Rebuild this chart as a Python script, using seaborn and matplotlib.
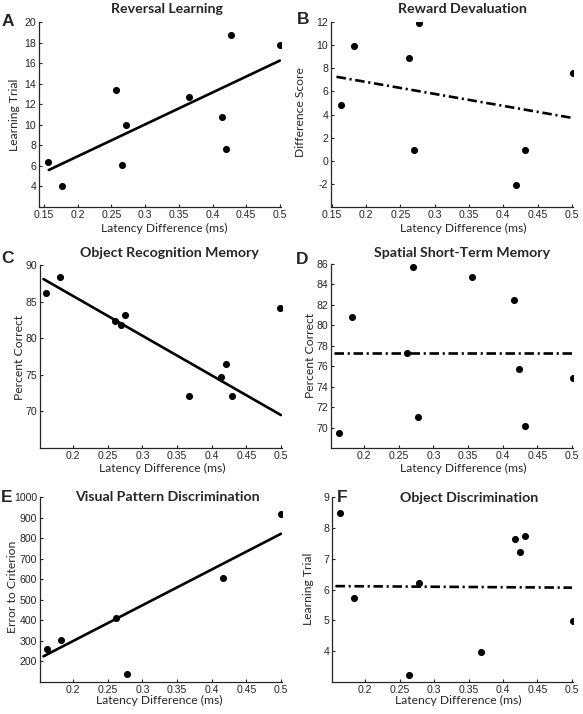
import numpy as np
import seaborn as sns
import matplotlib.pyplot as plt

# values
latency_a = [0.156, 0.176, 0.257, 0.266, 0.272, 0.365, 0.414, 0.420, 0.428, 0.500]
trial_a = [6.36, 4.07, 13.37, 6.07, 9.98, 12.70, 10.76, 7.62, 18.74, 17.80]
fit_a = [5.6, 16.25]

latency_b = [0.163, 0.183, 0.263, 0.270, 0.277, 0.418, 0.432, 0.502]
score_b = [4.78, 9.95, 8.91, 0.91, 11.94, -2.12, 0.91, 7.55]
fit_b = [7.26, 3.71]

latency_c = [0.161, 0.181, 0.260, 0.269, 0.275, 0.367, 0.414, 0.421, 0.429, 0.499]
correct_c = [86.16, 88.33, 82.33, 81.74, 83.14, 72.08, 74.74, 76.46, 72.08, 84.09]
fit_c = [88.08, 69.5]

latency_d = [0.163, 0.183, 0.262, 0.271, 0.278, 0.355, 0.417, 0.423, 0.432, 0.502]
correct_d = [69.51, 80.84, 77.30, 85.74, 71.06, 84.77, 82.43, 75.74, 70.12, 74.86]
fit_d = [77.27, 77.27]

latency_e = [0.162, 0.183, 0.262, 0.277, 0.416, 0.500]
errors_e = [262, 305, 412, 137, 606, 918]
fit_e = [225, 821]

latency_f = [0.164, 0.184, 0.264, 0.278, 0.368, 0.418, 0.424, 0.432, 0.501]
trial_f = [8.47, 5.72, 3.23, 6.22, 3.98, 7.63, 7.22, 7.72, 4.98]
fit_f = [6.11, 6.06]

fit_x = [0.157, 0.5]

xticks_ab = [0.15, 0.2, 0.25, 0.3, 0.35, 0.4, 0.45, 0.5]
xticks_cf = [0.2, 0.25, 0.3, 0.35, 0.4, 0.45, 0.5]

sns.set_style("ticks")
plt.rcParams['font.family'] = ['Liberation Sans', 'DejaVu Sans']

W, H = 583, 714
fig = plt.figure(figsize=(W / 100, H / 100), dpi=100)

# panel setup: letter, title, ylabel, data, fit, style, limits, ticks, pixel boxes
panels = [
    dict(letter='A', title='Reversal Learning', ylabel='Learning Trial',
         x=latency_a, y=trial_a, fit=fit_a, ls='-',
         xlim=(0.1425, 0.5015), ylim=(2, 20), xticks=xticks_ab, yticks=list(range(4, 21, 2)),
         box=(39, 22, 281, 207), letter_xy=(8, 21), title_xy=(167, 9),
         xlab_xy=(164, 228), ylab_xy=(15, 115)),
    dict(letter='B', title='Reward Devaluation', ylabel='Difference Score',
         x=latency_b, y=score_b, fit=fit_b, ls='dashdot',
         xlim=(0.149, 0.5015), ylim=(-4, 12), xticks=xticks_ab, yticks=list(range(-2, 13, 2)),
         box=(331, 22, 573, 207), letter_xy=(303, 20), title_xy=(462, 9),
         xlab_xy=(463, 228), ylab_xy=(300, 112)),
    dict(letter='C', title='Object Recognition Memory', ylabel='Percent Correct',
         x=latency_c, y=correct_c, fit=fit_c, ls='-',
         xlim=(0.152, 0.5015), ylim=(65, 90), xticks=xticks_cf, yticks=[70, 75, 80, 85, 90],
         box=(40, 265, 282, 448), letter_xy=(8, 258), title_xy=(169, 253),
         xlab_xy=(162, 468), ylab_xy=(20, 357)),
    dict(letter='D', title='Spatial Short-Term Memory', ylabel='Percent Correct',
         x=latency_d, y=correct_d, fit=fit_d, ls='dashdot',
         xlim=(0.152, 0.5015), ylim=(68, 86), xticks=xticks_cf, yticks=list(range(70, 87, 2)),
         box=(331, 264, 573, 448), letter_xy=(302, 260), title_xy=(462, 253),
         xlab_xy=(463, 468), ylab_xy=(311, 355)),
    dict(letter='E', title='Visual Pattern Discrimination', ylabel='Error to Criterion',
         x=latency_e, y=errors_e, fit=fit_e, ls='-',
         xlim=(0.152, 0.5015), ylim=(100, 1000), xticks=xticks_cf, yticks=list(range(200, 1001, 100)),
         box=(40, 497, 282, 682), letter_xy=(6.5, 497), title_xy=(167, 497),
         xlab_xy=(159, 700), ylab_xy=(13, 587)),
    dict(letter='F', title='Object Discrimination', ylabel='Learning Trial',
         x=latency_f, y=trial_f, fit=fit_f, ls='dashdot',
         xlim=(0.152, 0.5015), ylim=(3, 9), xticks=xticks_cf, yticks=[4, 5, 6, 7, 8, 9],
         box=(332, 497, 573, 682), letter_xy=(342, 497), title_xy=(469, 498),
         xlab_xy=(458, 700), ylab_xy=(309, 589)),
]


def fx(px):
    return px / W


def fy(py):
    return 1 - py / H


for p in panels:
    l, t, r, b = p['box']
    ax = fig.add_axes([fx(l), fy(b), (r - l) / W, (b - t) / H])

    sns.scatterplot(x=p['x'], y=p['y'], ax=ax, color='black', s=26, edgecolor='black',
                    linewidth=0, zorder=3)
    sns.lineplot(x=fit_x, y=p['fit'], ax=ax, color='black', lw=1.9, zorder=2)
    if p['ls'] == 'dashdot':
        ax.lines[-1].set_linestyle((0, (3.6, 1.4, 0.8, 1.4)))

    ax.set_xlim(*p['xlim'])
    ax.set_ylim(*p['ylim'])
    ax.set_xticks(p['xticks'])
    ax.set_xticklabels([f'{v:g}' for v in p['xticks']])
    ax.set_yticks(p['yticks'])
    ax.set_yticklabels([f'{v:g}' for v in p['yticks']])
    ax.tick_params(direction='in', length=2.5, width=0.8, labelsize=7.6, colors='#262626',
                   pad=2)
    sns.despine(ax=ax)
    for side in ['left', 'bottom']:
        ax.spines[side].set_color('#262626')
        ax.spines[side].set_linewidth(0.9)

    ax.set_xlabel('Latency Difference (ms)', family=['Lato', 'DejaVu Sans'], fontsize=8.7,
                  color='#262626')
    ax.set_ylabel(p['ylabel'], family=['Lato', 'DejaVu Sans'], fontsize=8.7, color='#262626')
    ax.xaxis.set_label_coords(fx(p['xlab_xy'][0]), fy(p['xlab_xy'][1]), transform=fig.transFigure)
    ax.yaxis.set_label_coords(fx(p['ylab_xy'][0]), fy(p['ylab_xy'][1]), transform=fig.transFigure)
    ax.xaxis.label.set_va('center')
    ax.yaxis.label.set_va('center')
    ax.yaxis.label.set_ha('center')

    fig.text(fx(p['title_xy'][0]), fy(p['title_xy'][1]), p['title'], ha='center', va='center',
             family=['Lato', 'DejaVu Sans'], fontweight='bold', fontsize=10.2)
    fig.text(fx(p['letter_xy'][0]), fy(p['letter_xy'][1]), p['letter'], ha='center', va='center',
             fontweight='bold', fontsize=12.5)

fig.savefig('out.png', dpi=100)
plt.close(fig)
